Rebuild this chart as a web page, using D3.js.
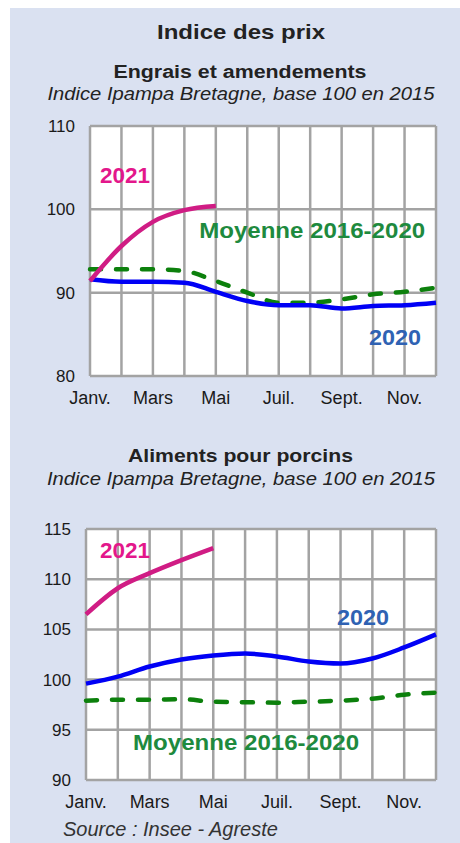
<!DOCTYPE html>
<html>
<head>
<meta charset="utf-8">
<script src="https://cdn.jsdelivr.net/npm/d3@7"></script>
<style>
    body { margin: 0; background: #fff; font-family: "Liberation Sans", Arial, sans-serif; }
    .grid line { stroke: #a3a3a3; stroke-width: 2.5px; }
    .tick-label { font-size: 17px; fill: #1a1a1a; }
</style>
</head>
<body>
<script>

// months 0..11, labels every other month
var monthTicks = [0, 2, 4, 6, 8, 10];
var monthLabels = ["Janv.", "Mars", "Mai", "Juil.", "Sept.", "Nov."];

// Engrais et amendements
var engraisTicks = [80, 90, 100, 110];
var engrais2021 = [91.4, 95.6, 98.5, 99.9, 100.4];
var engrais2020 = [91.6, 91.3, 91.3, 91.2, 90.1, 89.0, 88.5, 88.5, 88.1, 88.4, 88.5, 88.8];
var engraisMoy  = [92.8, 92.8, 92.8, 92.6, 91.4, 90.0, 88.8, 88.8, 89.2, 89.8, 90.1, 90.6];

// Aliments pour porcins
var porcinsTicks = [90, 95, 100, 105, 110, 115];
var porcins2021 = [106.5, 109.1, 110.6, 111.9, 113.1];
var porcins2020 = [99.6, 100.3, 101.3, 102.0, 102.4, 102.6, 102.3, 101.8, 101.6, 102.1, 103.2, 104.5];
var porcinsMoy  = [97.9, 98.0, 98.0, 98.05, 97.8, 97.75, 97.7, 97.8, 97.9, 98.1, 98.5, 98.7];

var width = 460, height = 843;

var svg = d3.select("body").append("svg")
    .attr("width", width)
    .attr("height", height);

// background panel
svg.append("rect")
    .attr("x", 10).attr("y", 8)
    .attr("width", 450).attr("height", height)
    .style("fill", "#dae1f1");

function title(txt, x, y, size, len, italic, bold) {
    svg.append("text")
        .attr("x", x).attr("y", y)
        .attr("text-anchor", "middle")
        .attr("textLength", len)
        .attr("lengthAdjust", "spacingAndGlyphs")
        .style("font-size", size + "px")
        .style("font-weight", bold ? "bold" : "normal")
        .style("font-style", italic ? "italic" : "normal")
        .style("fill", "#222")
        .text(txt);
}

title("Indice des prix", 241, 39, 21, 168, false, true);
title("Engrais et amendements", 240, 78, 18, 253, false, true);
title("Indice Ipampa Bretagne, base 100 en 2015", 241, 100, 18, 387, true, false);
title("Aliments pour porcins", 240.5, 462, 18, 225, false, true);
title("Indice Ipampa Bretagne, base 100 en 2015", 241, 485, 18, 388, true, false);

function drawChart(opt) {
    var x = d3.scaleLinear().domain([0, 11]).range([opt.left, opt.right]);
    var y = d3.scaleLinear().domain(d3.extent(opt.ticks)).range([opt.bottom, opt.top]);

    var g = svg.append("g");

    g.append("rect")
        .attr("x", opt.left).attr("y", opt.top)
        .attr("width", opt.right - opt.left)
        .attr("height", opt.bottom - opt.top)
        .style("fill", "#fff");

    var grid = g.append("g").attr("class", "grid");
    grid.selectAll("line.v")
        .data(d3.range(12))
        .enter().append("line")
        .attr("class", "v")
        .attr("x1", function(d) { return x(d); })
        .attr("x2", function(d) { return x(d); })
        .attr("y1", opt.top).attr("y2", opt.bottom);
    grid.selectAll("line.h")
        .data(opt.ticks)
        .enter().append("line")
        .attr("class", "h")
        .attr("x1", opt.left).attr("x2", opt.right)
        .attr("y1", function(d) { return y(d); })
        .attr("y2", function(d) { return y(d); });

    // y tick labels
    g.selectAll("text.yl")
        .data(opt.ticks)
        .enter().append("text")
        .attr("class", "tick-label")
        .attr("x", opt.left - 15)
        .attr("y", function(d) { return y(d) + 6; })
        .attr("text-anchor", "end")
        .text(function(d) { return d; });

    // month labels
    g.selectAll("text.xl")
        .data(monthTicks)
        .enter().append("text")
        .attr("class", "tick-label")
        .style("font-size", "18px")
        .attr("x", function(d) { return x(d); })
        .attr("y", opt.bottom + 28)
        .attr("text-anchor", "middle")
        .text(function(d, i) { return monthLabels[i]; });

    var line = d3.line()
        .x(function(d, i) { return x(i); })
        .y(function(d) { return y(d); })
        .curve(d3.curveMonotoneX);

    g.append("path").datum(opt.moy)
        .attr("d", line)
        .style("fill", "none")
        .style("stroke", "#0c800c")
        .style("stroke-width", 4.5)
        .style("stroke-dasharray", "11,15")
        .style("stroke-linecap", "round");

    g.append("path").datum(opt.s2020)
        .attr("d", line)
        .style("fill", "none")
        .style("stroke", "#0000f5")
        .style("stroke-width", 4.5);

    g.append("path").datum(opt.s2021)
        .attr("d", line)
        .style("fill", "none")
        .style("stroke", "#d01c84")
        .style("stroke-width", 4.5);

    opt.labels.forEach(function(l) {
        g.append("text")
            .attr("x", x(l.m)).attr("y", y(l.v))
            .attr("textLength", l.len)
            .attr("lengthAdjust", "spacingAndGlyphs")
            .style("font-size", "22px")
            .style("font-weight", "bold")
            .style("fill", l.color)
            .text(l.text);
    });
}

drawChart({
    left: 90, right: 436, top: 126, bottom: 376,
    ticks: engraisTicks,
    s2021: engrais2021, s2020: engrais2020, moy: engraisMoy,
    labels: [
        {text: "2021", m: 0.32, v: 103.2, len: 50, color: "#e3178b"},
        {text: "Moyenne 2016-2020", m: 3.47, v: 96.55, len: 226, color: "#1e8a3e"},
        {text: "2020", m: 8.87, v: 83.7, len: 52, color: "#2f62b3"}
    ]
});

drawChart({
    left: 86, right: 436, top: 529, bottom: 780,
    ticks: porcinsTicks,
    s2021: porcins2021, s2020: porcins2020, moy: porcinsMoy,
    labels: [
        {text: "2021", m: 0.44, v: 112.15, len: 50, color: "#e3178b"},
        {text: "2020", m: 7.89, v: 105.45, len: 52, color: "#2f62b3"},
        {text: "Moyenne 2016-2020", m: 1.48, v: 93.0, len: 226, color: "#1e8a3e"}
    ]
});

svg.append("text")
    .attr("x", 63).attr("y", 836)
    .style("font-size", "20px")
    .style("font-style", "italic")
    .style("fill", "#333")
    .text("Source : Insee - Agreste");

</script>
</body>
</html>
